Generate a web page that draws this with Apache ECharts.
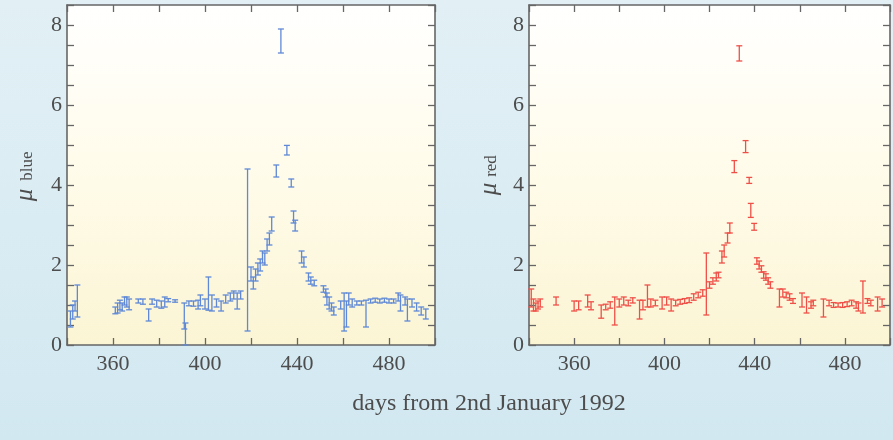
<!DOCTYPE html>
<html>
<head>
<meta charset="utf-8">
<script src="https://cdn.jsdelivr.net/npm/echarts@6/dist/echarts.min.js"></script>
<style>
  html, body { margin: 0; padding: 0; }
  #chart { width: 893px; height: 440px; }
</style>
</head>
<body>
<div id="chart"></div>
<script>
// Magnification in the blue band: day, value, lower and upper error limits
const blueDay = [341.5, 342.5, 343.5, 344.5, 361, 362, 363, 364, 365, 366, 367, 371, 373, 375.5, 377, 379, 381, 382.5, 384, 387,
  391, 391.5, 393, 395, 397, 398, 400, 401.5, 403, 405, 407, 409, 411, 412.5, 414, 415.5, 418.5, 420, 421, 422, 423, 424, 425, 426,
  427, 428, 429, 431, 433, 435.6, 437.5, 438.5, 439.2, 442, 443, 445, 446, 447.5, 451.5, 452.5, 453, 454, 455, 456, 459, 460.5,
  461.5, 462.5, 464, 466, 468, 470, 472, 474, 476, 478, 480, 482, 484, 485, 487, 488, 490, 492, 494, 496];
const blueVal = [0.65, 0.85, 1.0, 1.05, 0.85, 0.9, 1.0, 0.95, 1.1, 1.05, 1.0, 1.1, 1.1, 0.75, 1.1, 1.05, 1.0, 1.1, 1.12, 1.1,
  0.62, 0.25, 1.05, 1.05, 1.0, 1.1, 1.05, 1.2, 1.1, 1.05, 1.0, 1.15, 1.2, 1.25, 1.2, 1.25, 2.1, 1.8, 1.55, 1.75, 1.9, 2.0, 2.2, 2.15,
  2.5, 2.65, 3.0, 4.35, 7.6, 4.85, 4.05, 3.2, 3.0, 2.2, 2.1, 1.7, 1.6, 1.55, 1.4, 1.3, 1.15, 1.05, 0.95, 0.85, 1.0, 0.5,
  0.9, 1.1, 1.05, 1.05, 1.05, 1.05, 1.1, 1.12, 1.1, 1.12, 1.1, 1.1, 1.2, 1.0, 1.1, 0.9, 1.05, 0.95, 0.85, 0.8];
const blueLo = [0.45, 0.65, 0.85, 0.7, 0.78, 0.8, 0.88, 0.85, 1.0, 0.95, 0.88, 1.05, 1.02, 0.6, 1.02, 0.95, 0.92, 0.95, 1.08, 1.07,
  0.4, 0.0, 0.98, 0.97, 0.9, 0.98, 0.9, 0.87, 0.85, 0.95, 0.85, 1.05, 1.1, 1.15, 0.9, 1.15, 0.35, 1.6, 1.4, 1.6, 1.75, 1.85, 2.05, 2.0,
  2.35, 2.5, 2.85, 4.2, 7.3, 4.75, 3.95, 3.05, 2.85, 2.05, 1.95, 1.6, 1.52, 1.48, 1.32, 1.2, 1.0, 0.9, 0.85, 0.75, 0.9, 0.35,
  0.45, 1.0, 0.95, 1.0, 1.0, 0.45, 1.05, 1.07, 1.05, 1.07, 1.05, 1.05, 1.1, 0.85, 1.0, 0.6, 0.95, 0.85, 0.75, 0.65];
const blueHi = [0.85, 1.0, 1.1, 1.5, 0.95, 1.05, 1.12, 1.05, 1.2, 1.2, 1.15, 1.15, 1.15, 0.9, 1.15, 1.12, 1.1, 1.2, 1.16, 1.13,
  1.05, 0.55, 1.1, 1.1, 1.12, 1.25, 1.15, 1.7, 1.25, 1.15, 1.1, 1.25, 1.3, 1.35, 1.3, 1.35, 4.4, 1.95, 1.7, 1.9, 2.05, 2.15, 2.35, 2.3,
  2.65, 2.8, 3.2, 4.5, 7.9, 4.99, 4.15, 3.35, 3.12, 2.35, 2.2, 1.8, 1.7, 1.62, 1.48, 1.4, 1.3, 1.2, 1.05, 0.95, 1.1, 1.3,
  1.1, 1.3, 1.15, 1.1, 1.1, 1.12, 1.15, 1.17, 1.15, 1.17, 1.15, 1.15, 1.3, 1.25, 1.2, 1.15, 1.15, 1.05, 0.95, 0.9];

// Magnification in the red band
const redDay = [341, 342, 343, 344, 345, 352, 360, 362, 366, 367.5, 372, 374, 376, 378, 380, 382, 384, 386, 389, 390.5,
  392.5, 394, 396, 399, 401, 403, 405, 407, 409, 411, 413, 415, 417, 418.6, 420, 421.5, 423, 424, 425.5, 426.5, 428, 429,
  431, 433.2, 436, 437.6, 438.3, 439.8, 441, 442, 443, 444, 445, 446, 447, 451, 452.5, 454, 455.5, 457, 461, 463, 465, 466,
  470.5, 473, 475, 477, 479, 481, 483, 485, 486, 488, 490, 491.5, 494.5, 496.5];
const redVal = [1.1, 1.0, 0.95, 1.0, 1.05, 1.1, 0.95, 1.0, 1.05, 0.97, 0.87, 0.95, 1.0, 0.95, 1.05, 1.1, 1.05, 1.12, 0.85, 1.0,
  1.2, 1.05, 1.05, 1.05, 1.1, 1.0, 1.05, 1.08, 1.1, 1.12, 1.2, 1.25, 1.3, 1.35, 1.5, 1.6, 1.7, 1.75, 2.2, 2.35, 2.67, 2.92,
  4.45, 7.3, 4.95, 4.1, 3.37, 2.95, 2.1, 2.0, 1.9, 1.75, 1.7, 1.6, 1.5, 1.2, 1.3, 1.25, 1.2, 1.1, 1.15, 1.05, 1.0, 1.05,
  0.95, 1.05, 1.0, 1.0, 1.0, 1.02, 1.05, 1.0, 0.95, 1.15, 1.1, 1.05, 1.0, 1.05];
const redLo = [0.95, 0.85, 0.85, 0.9, 0.95, 1.0, 0.85, 0.88, 0.95, 0.88, 0.67, 0.88, 0.92, 0.5, 0.95, 1.0, 0.98, 1.05, 0.65, 0.88,
  0.95, 0.95, 0.98, 0.9, 1.0, 0.85, 0.98, 1.02, 1.04, 1.06, 1.12, 1.18, 1.22, 0.75, 1.42, 1.52, 1.6, 1.68, 2.05, 2.2, 2.55, 2.8,
  4.31, 7.1, 4.81, 4.04, 3.19, 2.87, 2.02, 1.9, 1.82, 1.67, 1.62, 1.52, 1.42, 0.95, 1.2, 1.18, 1.12, 1.04, 0.95, 0.8, 0.92, 0.98,
  0.7, 0.98, 0.94, 0.95, 0.94, 0.96, 0.98, 0.92, 0.85, 0.8, 1.04, 0.98, 0.85, 0.95];
const redHi = [1.4, 1.15, 1.05, 1.1, 1.15, 1.2, 1.1, 1.1, 1.25, 1.08, 1.0, 1.02, 1.08, 1.2, 1.15, 1.2, 1.12, 1.18, 1.12, 1.12,
  1.5, 1.15, 1.12, 1.2, 1.2, 1.15, 1.12, 1.14, 1.16, 1.18, 1.28, 1.32, 1.38, 2.3, 1.58, 1.68, 1.8, 1.82, 2.35, 2.5, 2.8, 3.05,
  4.61, 7.48, 5.11, 4.19, 3.54, 3.04, 2.18, 2.1, 1.98, 1.83, 1.78, 1.68, 1.58, 1.4, 1.4, 1.32, 1.28, 1.16, 1.3, 1.2, 1.08, 1.12,
  1.15, 1.12, 1.06, 1.05, 1.06, 1.08, 1.12, 1.08, 1.05, 1.6, 1.16, 1.12, 1.2, 1.15];

// Axis ticks
const xMin = 340, xMax = 500, xStep = 20, xLabelStep = 40;
const yMin = 0, yMax = 8.5, yStep = 0.5, yLabelStep = 2;

const SERIF = '"Liberation Serif", "DejaVu Serif", serif';
const TEXT = '#4d4d4d';
const FRAME = '#666666';

function rows(day, val, lo, hi) {
  return day.map((d, i) => [d, val[i], lo[i], hi[i]]);
}

function errorBars(color) {
  return function (params, api) {
    const x = api.value(0);
    const a = api.coord([x, api.value(2)]);
    const b = api.coord([x, api.value(3)]);
    const w = 3;
    const st = { stroke: color, lineWidth: 1.3 };
    return {
      type: 'group',
      children: [
        { type: 'line', shape: { x1: a[0], y1: a[1], x2: b[0], y2: b[1] }, style: st },
        { type: 'line', shape: { x1: a[0] - w, y1: a[1], x2: a[0] + w, y2: a[1] }, style: st },
        { type: 'line', shape: { x1: b[0] - w, y1: b[1], x2: b[0] + w, y2: b[1] }, style: st }
      ]
    };
  };
}

const panelFill = {
  type: 'linear', x: 0, y: 0, x2: 0, y2: 1,
  colorStops: [
    { offset: 0, color: '#ffffff' },
    { offset: 0.45, color: '#fffcec' },
    { offset: 1, color: '#fbf5d4' }
  ]
};

function xAxis(grid, pos, labels) {
  return {
    type: 'value', gridIndex: grid, position: pos,
    min: xMin, max: xMax, interval: xStep,
    axisLine: { show: true, onZero: false, lineStyle: { color: FRAME, width: 1.6 } },
    axisTick: { show: true, inside: true, length: 7, lineStyle: { color: FRAME, width: 1.3 } },
    axisLabel: {
      show: labels, margin: 8, color: TEXT, fontFamily: SERIF, fontSize: 22,
      formatter: v => (v % xLabelStep === 0 ? String(v) : '')
    },
    splitLine: { show: false }
  };
}

function yAxis(grid, pos, labels) {
  return {
    type: 'value', gridIndex: grid, position: pos,
    min: yMin, max: yMax, interval: yStep,
    axisLine: { show: true, onZero: false, lineStyle: { color: FRAME, width: 1.6 } },
    axisTick: { show: true, inside: true, length: 7, lineStyle: { color: FRAME, width: 1.3 } },
    axisLabel: {
      show: labels, margin: 5, color: TEXT, fontFamily: SERIF, fontSize: 22,
      formatter: v => (v % yLabelStep === 0 ? String(v) : '')
    },
    splitLine: { show: false }
  };
}

function axisName(cx, cy, main, sub, subX, subY) {
  return [
    { type: 'text', x: cx, y: cy, rotation: Math.PI / 2,
      style: { text: main, font: 'italic 25px ' + SERIF, fill: TEXT, align: 'center', verticalAlign: 'middle' } },
    { type: 'text', x: subX, y: subY, rotation: Math.PI / 2,
      style: { text: sub, font: '17px ' + SERIF, fill: TEXT, align: 'center', verticalAlign: 'middle' } }
  ];
}

const chart = echarts.init(document.getElementById('chart'), null, { renderer: 'canvas' });
chart.setOption({
  animation: false,
  backgroundColor: {
    type: 'linear', x: 0, y: 0, x2: 0, y2: 1,
    colorStops: [
      { offset: 0, color: '#e2f0f5' },
      { offset: 1, color: '#d2e8f1' }
    ]
  },
  grid: [
    { left: 67, top: 5, width: 368, height: 340, show: true, backgroundColor: panelFill, borderWidth: 0 },
    { left: 529, top: 5, width: 363, height: 340, show: true, backgroundColor: panelFill, borderWidth: 0 }
  ],
  xAxis: [xAxis(0, 'bottom', true), xAxis(0, 'top', false), xAxis(1, 'bottom', true), xAxis(1, 'top', false)],
  yAxis: [yAxis(0, 'left', true), yAxis(0, 'right', false), yAxis(1, 'left', true), yAxis(1, 'right', false)],
  series: [
    { type: 'custom', xAxisIndex: 0, yAxisIndex: 0, data: rows(blueDay, blueVal, blueLo, blueHi),
      encode: { x: 0, y: [1, 2, 3] }, renderItem: errorBars('#5f88d6') },
    { type: 'custom', xAxisIndex: 2, yAxisIndex: 2, data: rows(redDay, redVal, redLo, redHi),
      encode: { x: 0, y: [1, 2, 3] }, renderItem: errorBars('#ee5048') }
  ],
  graphic: [
    ...axisName(25, 195, 'μ', 'blue', 28, 166),
    ...axisName(489, 189, 'μ', 'red', 492, 166),
    { type: 'text', x: 489, y: 404,
      style: { text: 'days from 2nd January 1992', font: '24px ' + SERIF, fill: TEXT, align: 'center', verticalAlign: 'middle' } }
  ]
});
</script>
</body>
</html>
